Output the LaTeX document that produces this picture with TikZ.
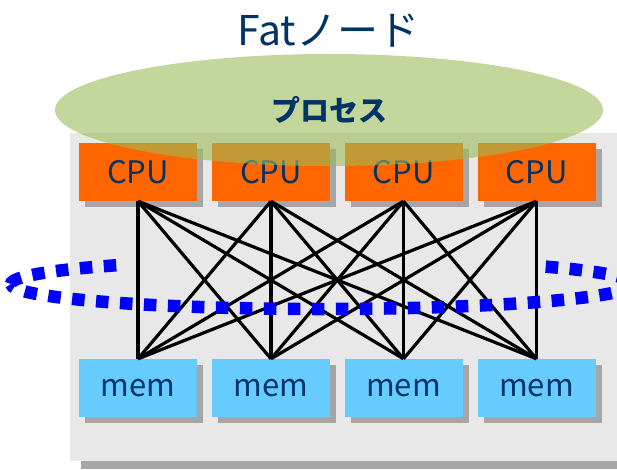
\documentclass[tikz,border=0pt]{standalone}
\usepackage{fontspec}
\setmainfont{Noto Sans CJK JP}
\usetikzlibrary{shapes.geometric}
\definecolor{navy}{RGB}{0,51,102}
\definecolor{cpuorange}{RGB}{255,102,0}
\definecolor{memblue}{RGB}{102,204,255}
\definecolor{bggray}{RGB}{232,232,232}
\definecolor{shadowgray}{RGB}{166,166,166}
\definecolor{procgreen}{RGB}{155,187,89}
\definecolor{dotblue}{RGB}{0,0,255}
\tikzset{
  unitbox/.style={minimum width=118pt, minimum height=58pt, inner sep=0pt,
    text=navy, font=\fontsize{31}{34}\selectfont},
  cpubox/.style={unitbox, fill=cpuorange},
  membox/.style={unitbox, fill=memblue},
  boxshadow/.style={fill=shadowgray, minimum width=118pt, minimum height=58pt, inner sep=0pt},
  link/.style={line width=3.2pt, black},
  ring/.style={dotblue, line width=12.5pt, dash pattern=on 12.5pt off 11.5pt}
}
\begin{document}
\begin{tikzpicture}[x=1pt,y=-1pt]
\useasboundingbox (0,0) rectangle (617,469);
% background panel
\fill[shadowgray] (81,141) rectangle (630,469);
\fill[bggray] (70,133) rectangle (630,461);
% title
\node[text=navy, font=\fontsize{41}{44}\selectfont] (title) at (328,31) {Fatノード};
% back part of dotted ring (upper on screen)
\draw[ring] (322,284) ++(180:311 and 25) arc[start angle=180, end angle=231, x radius=311, y radius=25];
\draw[ring] (322,284) ++(316:311 and 25) arc[start angle=316, end angle=360, x radius=311, y radius=25];
% boxes
\foreach \i/\x in {1/138,2/271,3/403.5,4/536.5}{
  \node[boxshadow] at (\x+6,178) {};
  \node[boxshadow] at (\x+6,394) {};
  \node[cpubox] (cpu\i) at (\x,172) {CPU};
  \node[membox] (mem\i) at (\x,388) {mem};
}
% links
\foreach \i in {1,...,4}{
  \foreach \j in {1,...,4}{
    \draw[link] (cpu\i.south) -- (mem\j.north);
  }
}
% front part of dotted ring (lower on screen)
\draw[ring] (322,284) ++(0:311 and 25) arc[start angle=0, end angle=180, x radius=311, y radius=25];
% process ellipse
\node[ellipse, fill=procgreen, fill opacity=0.6, minimum width=548pt, minimum height=112pt,
  inner sep=0pt, text opacity=1, text=navy, font=\bfseries\fontsize{29}{32}\selectfont] (proc) at (329,110) {プロセス};
\end{tikzpicture}
\end{document}
